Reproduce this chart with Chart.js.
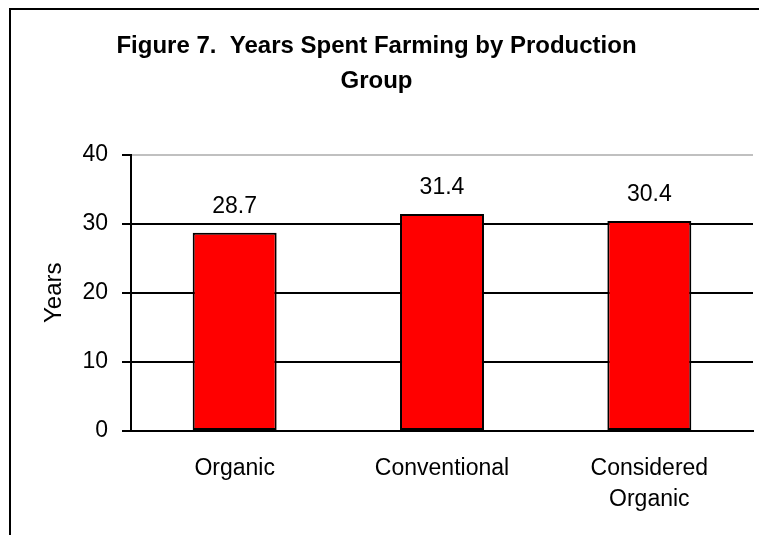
<!DOCTYPE html>
<html>
<head>
<meta charset="utf-8">
<title>Years Spent Farming by Production Group</title>
<script src="https://cdn.jsdelivr.net/npm/chart.js@4.4.1/dist/chart.umd.min.js"></script>
<style>
    html, body {
        margin: 0;
        padding: 0;
        background: #fff;
        overflow: hidden;
    }
    .frame {
        position: absolute;
        left: 9px;
        top: 8px;
        width: 900px;
        height: 700px;
        border: 2px solid #000;
    }
    #yearsChart {
        position: absolute;
        left: 0;
        top: 0;
    }
</style>
</head>
<body>
<div class="frame"></div>
<canvas id="yearsChart" width="759" height="535"></canvas>
<script>
// Chart data
const groups = ['Organic', 'Conventional', ['Considered', 'Organic']];
const yearsFarming = [28.7, 31.4, 30.4];
const yTicks = [0, 10, 20, 30, 40];

const fontFamily = "'Liberation Sans', Arial, sans-serif";

// Writes each bar's value above it
const valueLabels = {
    id: 'valueLabels',
    afterDatasetsDraw(chart) {
        const ctx = chart.ctx;
        const meta = chart.getDatasetMeta(0);
        ctx.save();
        ctx.font = '23px ' + fontFamily;
        ctx.fillStyle = '#000';
        ctx.textAlign = 'center';
        ctx.textBaseline = 'middle';
        meta.data.forEach((bar, i) => {
            ctx.fillText(yearsFarming[i].toFixed(1), bar.x, bar.y - 26);
        });
        ctx.restore();
    }
};

const ctx = document.getElementById('yearsChart').getContext('2d');
const yearsChart = new Chart(ctx, {
    type: 'bar',
    data: {
        labels: groups,
        datasets: [{
            label: 'Years',
            data: yearsFarming,
            backgroundColor: '#ff0000',
            borderColor: '#000',
            borderWidth: 2,
            borderSkipped: false,
            barPercentage: 0.405,
            categoryPercentage: 1
        }]
    },
    options: {
        responsive: false,
        animation: false,
        layout: {
            padding: { left: 0, right: 6, top: 0, bottom: -2 }
        },
        plugins: {
            legend: { display: false },
            tooltip: { enabled: false },
            title: {
                display: true,
                text: ['Figure 7.  Years Spent Farming by Production', 'Group'],
                color: '#000',
                font: { family: fontFamily, size: 24, weight: 'bold', lineHeight: 1.45 },
                padding: { top: 29, bottom: 56 }
            }
        },
        scales: {
            x: {
                grid: { display: false, drawTicks: false },
                border: { color: '#000', width: 2 },
                ticks: {
                    color: '#000',
                    padding: 22,
                    maxRotation: 0,
                    font: { family: fontFamily, size: 23, lineHeight: 1.35 }
                }
            },
            y: {
                min: 0,
                max: 40,
                afterBuildTicks(scale) {
                    scale.ticks = yTicks.map(v => ({ value: v }));
                },
                afterFit(scale) {
                    scale.width = 131;
                },
                grid: {
                    color: c => (c.tick && c.tick.value === 40 ? '#c0c0c0' : '#000'),
                    lineWidth: 2,
                    tickColor: '#000',
                    tickWidth: 2,
                    tickLength: 9
                },
                border: { color: '#000', width: 2 },
                ticks: {
                    color: '#000',
                    padding: 14,
                    font: { family: fontFamily, size: 23 }
                },
                title: {
                    display: true,
                    text: 'Years',
                    color: '#000',
                    font: { family: fontFamily, size: 24 },
                    padding: { top: 40, bottom: 0 }
                }
            }
        }
    },
    plugins: [valueLabels]
});
</script>
</body>
</html>
